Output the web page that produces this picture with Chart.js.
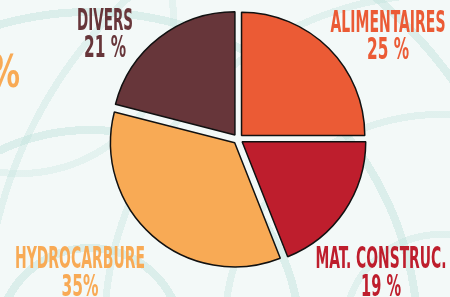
<!DOCTYPE html>
<html>
<head>
<meta charset="utf-8">
<script src="https://cdn.jsdelivr.net/npm/chart.js@4"></script>
<style>
  html, body { margin: 0; padding: 0; }
  body {
    width: 450px; height: 297px; overflow: hidden;
    background-color: #f3f9f8;
    background-image:
      repeating-radial-gradient(circle at 90px 340px, rgba(255,255,255,0) 0 88px, rgba(190,225,219,0.45) 88px 96px, rgba(255,255,255,0) 96px 118px),
      repeating-radial-gradient(circle at 440px 330px, rgba(255,255,255,0) 0 92px, rgba(190,225,219,0.35) 92px 99px, rgba(255,255,255,0) 99px 120px),
      radial-gradient(circle at 20px 20px, rgba(255,255,255,0) 0 150px, rgba(205,232,227,0.4) 150px 157px, rgba(255,255,255,0) 157px);
  }
  #wrap { position: relative; width: 450px; height: 297px; }
</style>
</head>
<body>
<div id="wrap"><canvas id="pieChart" width="450" height="297"></canvas></div>
<script>
const categories = ['ALIMENTAIRES', 'MAT. CONSTRUC.', 'HYDROCARBURE', 'DIVERS'];
const shares = [25, 19, 35, 21];
const shareLabels = ['25 %', '19 %', '35%', '21 %'];
const sliceColors = ['#eb5b35', '#be1e2d', '#f8aa55', '#67363a'];

const labelFont = "bold 27px 'Liberation Sans Narrow', 'DejaVu Sans Condensed', 'Roboto', sans-serif";

// where each caption sits: centre x, baseline of both lines, widths to fit
const captionBoxes = [
  { x: 388, y1: 32, y2: 59, w1: 115, w2: 42 },
  { x: 381, y1: 268, y2: 296, w1: 131, w2: 40 },
  { x: 80, y1: 268, y2: 296, w1: 130, w2: 37 },
  { x: 105, y1: 30, y2: 57, w1: 56, w2: 42 }
];

function fitText(ctx, text, cx, y, width, color) {
  ctx.save();
  ctx.font = labelFont;
  ctx.fillStyle = color;
  ctx.textAlign = 'center';
  ctx.textBaseline = 'alphabetic';
  const w = ctx.measureText(text).width;
  const sx = width / w;
  ctx.translate(cx, y);
  ctx.scale(sx, 1.14);
  ctx.fillText(text, 0, 0);
  ctx.restore();
}

const captionPlugin = {
  id: 'captions',
  afterDraw(chart) {
    const ctx = chart.ctx;
    categories.forEach((name, i) => {
      const b = captionBoxes[i];
      fitText(ctx, name, b.x, b.y1, b.w1, sliceColors[i]);
      fitText(ctx, shareLabels[i], b.x, b.y2, b.w2, sliceColors[i]);
    });
    // cut-off percentage from a neighbouring chart
    ctx.save();
    ctx.font = "bold 44px 'Liberation Sans Narrow', 'DejaVu Sans Condensed', sans-serif";
    ctx.fillStyle = '#f8aa55';
    ctx.textAlign = 'right';
    ctx.translate(20, 87);
    ctx.scale(0.75, 1);
    ctx.fillText('%', 0, 0);
    ctx.restore();
  }
};

const ctx = document.getElementById('pieChart').getContext('2d');
new Chart(ctx, {
  type: 'pie',
  data: {
    labels: categories,
    datasets: [{
      data: shares,
      backgroundColor: sliceColors,
      borderColor: '#111111',
      borderWidth: 1.5,
      offset: 20
    }]
  },
  options: {
    responsive: false,
    animation: false,
    layout: { padding: { top: 5, bottom: 24, left: 26, right: 0 } },
    plugins: {
      legend: { display: false },
      tooltip: { enabled: false }
    }
  },
  plugins: [captionPlugin]
});
</script>
</body>
</html>
